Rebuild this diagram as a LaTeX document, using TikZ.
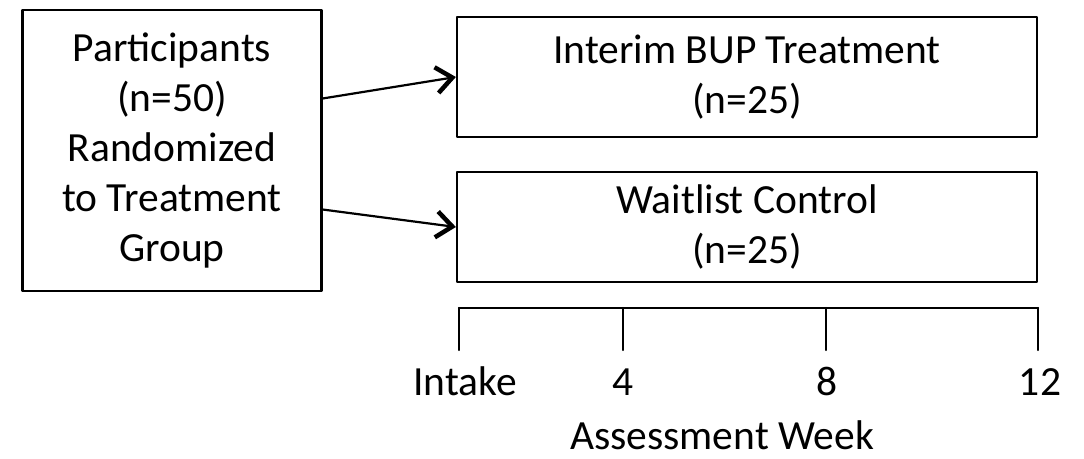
\documentclass[tikz,border=0pt]{standalone}
\usepackage{fontspec}
\setmainfont{Carlito}
\usetikzlibrary{arrows.meta}
\begin{document}
\begin{tikzpicture}[x=1pt,y=-1pt, >={Straight Barb[length=16pt,width=26pt,line width=4.5pt]},
	line width=2.2pt, line join=round, line cap=round, font=\fontsize{41.5}{50}\selectfont]
	\tikzset{box/.style={draw, align=center, inner sep=0pt}}
	\useasboundingbox (0,0) rectangle (1084,458);
	% groups
	\node[box, minimum width=299pt, minimum height=281pt] (part) at (172,150.5)
		{Participants\\(n=50)\\Randomized\\to Treatment\\Group};
	\node[box, minimum width=580pt, minimum height=120pt] (treat) at (747,77)
		{Interim BUP Treatment\\(n=25)};
	\node[box, minimum width=580pt, minimum height=110pt] (wait) at (747,227)
		{Waitlist Control\\(n=25)};
	\draw[->] ([yshift=52pt]part.east) -- (treat.west);
	\draw[->] ([yshift=-59pt]part.east) -- (wait.west);
	% assessment timeline
	\foreach \x/\lx/\lab [count=\i] in {459/465/Intake,623/623/4,826/827/8,1038/1040/12} {
		\coordinate (t\i) at (\x,308);
		\draw (t\i) -- ++(0,42);
		\node[anchor=base, inner sep=0pt] (l\i) at (\lx,395) {\lab};
	}
	\draw (t1) -- (t4);
	\node[anchor=base, inner sep=0pt] (week) at (722,449) {Assessment Week};
\end{tikzpicture}
\end{document}
